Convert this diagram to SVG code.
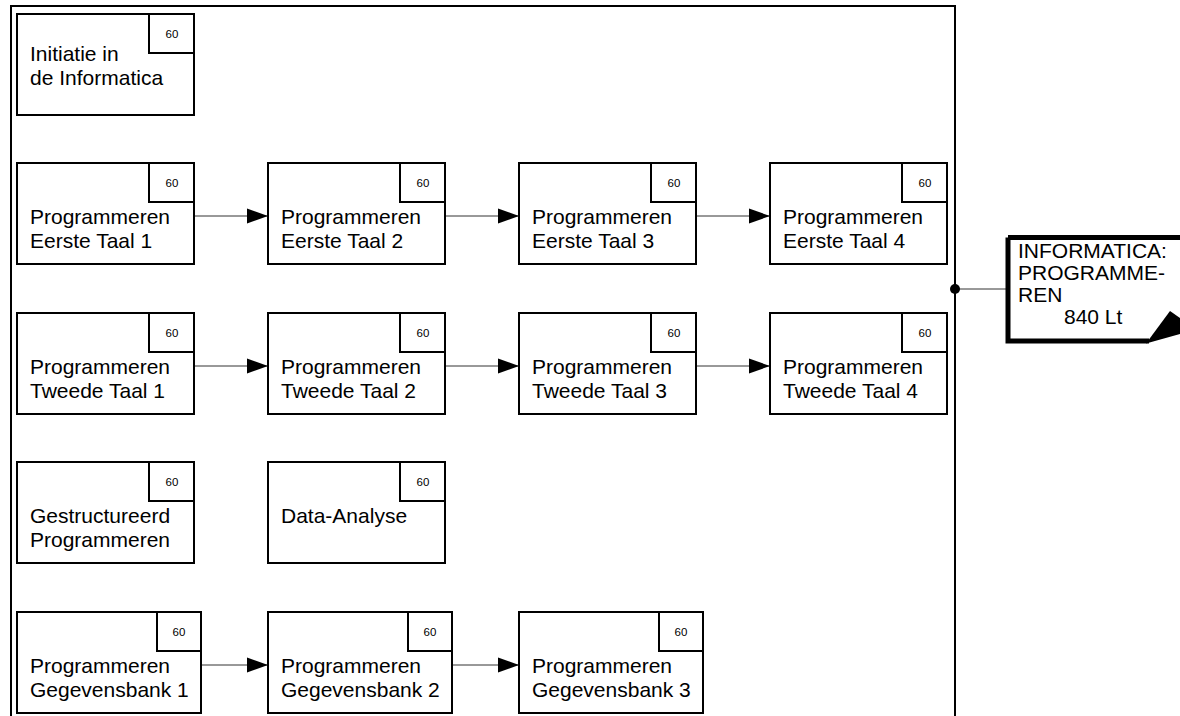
<svg xmlns="http://www.w3.org/2000/svg" width="1180" height="716" viewBox="0 0 1180 716">
<style>
.box{fill:#fff;stroke:#000;stroke-width:2}
.t{font-family:"Liberation Sans",Arial,sans-serif;font-size:21px;fill:#000}
.n{font-family:"Liberation Sans",Arial,sans-serif;font-size:11.5px;fill:#000;text-anchor:middle}
.c{stroke:#333;stroke-width:1;fill:none;marker-end:url(#ah)}
.o{font-family:"Liberation Sans",Arial,sans-serif;font-size:21px;fill:#000}
</style>
<defs>
<marker id="ah" markerWidth="21" markerHeight="16" refX="21" refY="8" orient="auto" markerUnits="userSpaceOnUse">
<path d="M0,0.5 L21,8 L0,15.5 Z" fill="#000"/>
</marker>
</defs>
<rect width="1180" height="716" fill="#fff"/>
<g id="frame">
<path d="M11,717 V6 H955 V717" fill="none" stroke="#000" stroke-width="2"/>
</g>
<g id="connectors">
<line class="c" x1="194" y1="216" x2="268" y2="216"/>
<line class="c" x1="445" y1="216" x2="519" y2="216"/>
<line class="c" x1="696" y1="216" x2="770" y2="216"/>
<line class="c" x1="194" y1="366" x2="268" y2="366"/>
<line class="c" x1="445" y1="366" x2="519" y2="366"/>
<line class="c" x1="696" y1="366" x2="770" y2="366"/>
<line class="c" x1="201" y1="665" x2="268" y2="665"/>
<line class="c" x1="452" y1="665" x2="519" y2="665"/>
<line x1="955" y1="289" x2="1006" y2="289" stroke="#333" stroke-width="1"/>
<circle cx="955" cy="289" r="5" fill="#000"/>
</g>
<g id="n-init"><rect class="box" x="17" y="14" width="177" height="101"/><rect class="box" x="149" y="14" width="45" height="39"/><text class="n" x="172" y="38">60</text><text class="t" x="30" y="61">Initiatie in</text><text class="t" x="30" y="85">de Informatica</text></g>
<g id="n-pet1"><rect class="box" x="17" y="163" width="177" height="101"/><rect class="box" x="149" y="163" width="45" height="39"/><text class="n" x="172" y="187">60</text><text class="t" x="30" y="224">Programmeren</text><text class="t" x="30" y="248">Eerste Taal 1</text></g>
<g id="n-pet2"><rect class="box" x="268" y="163" width="177" height="101"/><rect class="box" x="400" y="163" width="45" height="39"/><text class="n" x="423" y="187">60</text><text class="t" x="281" y="224">Programmeren</text><text class="t" x="281" y="248">Eerste Taal 2</text></g>
<g id="n-pet3"><rect class="box" x="519" y="163" width="177" height="101"/><rect class="box" x="651" y="163" width="45" height="39"/><text class="n" x="674" y="187">60</text><text class="t" x="532" y="224">Programmeren</text><text class="t" x="532" y="248">Eerste Taal 3</text></g>
<g id="n-pet4"><rect class="box" x="770" y="163" width="177" height="101"/><rect class="box" x="902" y="163" width="45" height="39"/><text class="n" x="925" y="187">60</text><text class="t" x="783" y="224">Programmeren</text><text class="t" x="783" y="248">Eerste Taal 4</text></g>
<g id="n-ptt1"><rect class="box" x="17" y="313" width="177" height="101"/><rect class="box" x="149" y="313" width="45" height="39"/><text class="n" x="172" y="337">60</text><text class="t" x="30" y="374">Programmeren</text><text class="t" x="30" y="398">Tweede Taal 1</text></g>
<g id="n-ptt2"><rect class="box" x="268" y="313" width="177" height="101"/><rect class="box" x="400" y="313" width="45" height="39"/><text class="n" x="423" y="337">60</text><text class="t" x="281" y="374">Programmeren</text><text class="t" x="281" y="398">Tweede Taal 2</text></g>
<g id="n-ptt3"><rect class="box" x="519" y="313" width="177" height="101"/><rect class="box" x="651" y="313" width="45" height="39"/><text class="n" x="674" y="337">60</text><text class="t" x="532" y="374">Programmeren</text><text class="t" x="532" y="398">Tweede Taal 3</text></g>
<g id="n-ptt4"><rect class="box" x="770" y="313" width="177" height="101"/><rect class="box" x="902" y="313" width="45" height="39"/><text class="n" x="925" y="337">60</text><text class="t" x="783" y="374">Programmeren</text><text class="t" x="783" y="398">Tweede Taal 4</text></g>
<g id="n-gp"><rect class="box" x="17" y="462" width="177" height="101"/><rect class="box" x="149" y="462" width="45" height="39"/><text class="n" x="172" y="486">60</text><text class="t" x="30" y="523">Gestructureerd</text><text class="t" x="30" y="547">Programmeren</text></g>
<g id="n-da"><rect class="box" x="268" y="462" width="177" height="101"/><rect class="box" x="400" y="462" width="45" height="39"/><text class="n" x="423" y="486">60</text><text class="t" x="281" y="523">Data-Analyse</text></g>
<g id="n-pg1"><rect class="box" x="17" y="612" width="184" height="101"/><rect class="box" x="157" y="612" width="44" height="39"/><text class="n" x="179" y="636">60</text><text class="t" x="30" y="673">Programmeren</text><text class="t" x="30" y="697">Gegevensbank 1</text></g>
<g id="n-pg2"><rect class="box" x="268" y="612" width="184" height="101"/><rect class="box" x="408" y="612" width="44" height="39"/><text class="n" x="430" y="636">60</text><text class="t" x="281" y="673">Programmeren</text><text class="t" x="281" y="697">Gegevensbank 2</text></g>
<g id="n-pg3"><rect class="box" x="519" y="612" width="184" height="101"/><rect class="box" x="659" y="612" width="44" height="39"/><text class="n" x="681" y="636">60</text><text class="t" x="532" y="673">Programmeren</text><text class="t" x="532" y="697">Gegevensbank 3</text></g>
<g id="n-out">
<path d="M1008,237.5 H1184 M1008,237.5 V341 H1149" fill="none" stroke="#000" stroke-width="5"/>
<polygon points="1146,343.5 1170,311 1180,318 1180,334" fill="#000"/>
<text class="o" x="1018" y="258">INFORMATICA:</text>
<text class="o" x="1018" y="280">PROGRAMME-</text>
<text class="o" x="1018" y="302">REN</text>
<text class="o" x="1064" y="324">840 Lt</text>
</g>
</svg>
